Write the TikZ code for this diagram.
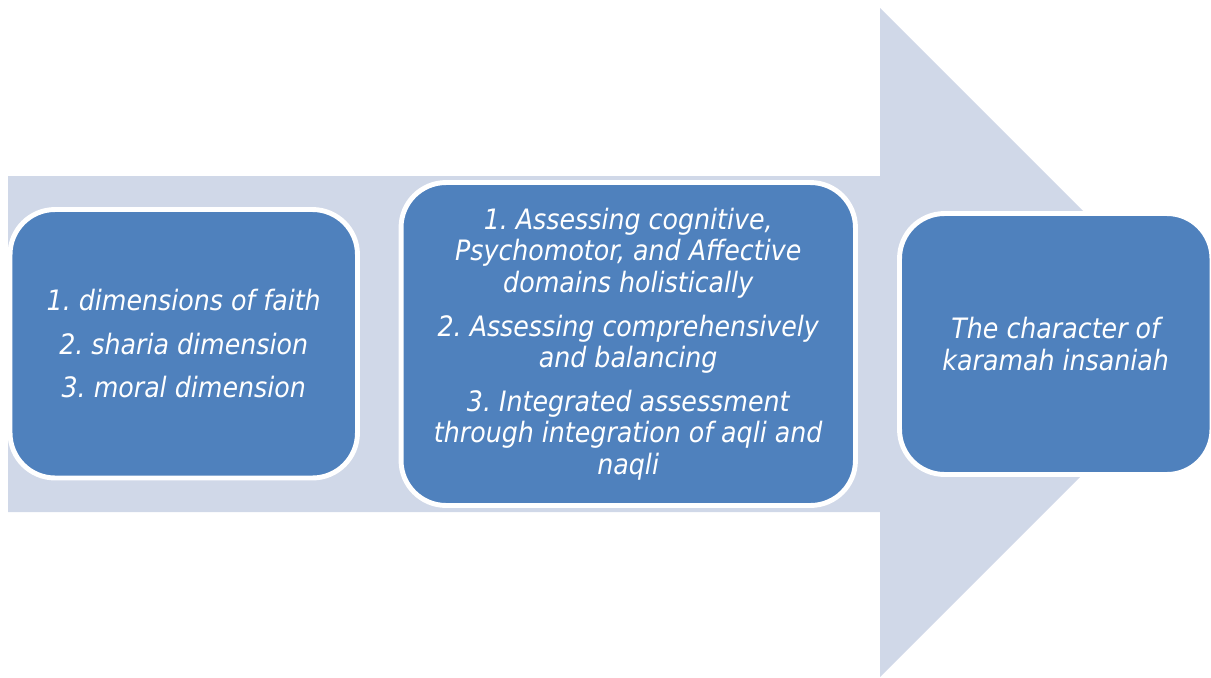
\documentclass[tikz,border=0pt]{standalone}
\usepackage{fontspec}
\setmainfont{DejaVu Sans Condensed}
\frenchspacing
\definecolor{shaftgray}{RGB}{208,216,232}
\definecolor{boxblue}{RGB}{79,129,189}
\begin{document}
\begin{tikzpicture}[x=0.02cm,y=-0.02cm,
  box/.style={rectangle,rounded corners=0.9cm,fill=boxblue,draw=white,line width=2.8pt,
    text=white,align=center,font=\itshape\fontsize{16}{17.9}\selectfont}]
\useasboundingbox (0,0) rectangle (1211,677);
% big arrow behind the boxes
\fill[shaftgray] (8,176) -- (880,176) -- (880,8) -- (1214.5,342.5) -- (880,677) -- (880,512) -- (8,512) -- cycle;
\node[box,minimum width=6.95cm,minimum height=5.37cm] (dims) at (183.75,343.75)
  {1. dimensions of faith\\[7pt] 2. sharia dimension\\[7pt] 3. moral dimension};
\node[box,minimum width=9.09cm,minimum height=6.46cm] (assess) at (628.25,344)
  {1. Assessing cognitive,\\ Psychomotor, and Affective\\ domains holistically\\[7pt]
   2. Assessing comprehensively\\ and balancing\\[7pt]
   3. Integrated assessment\\ through integration of aqli and\\ naqli};
\node[box,minimum width=6.25cm,minimum height=5.22cm] (karamah) at (1055.75,344)
  {The character of\\ karamah insaniah};
\end{tikzpicture}
\end{document}
